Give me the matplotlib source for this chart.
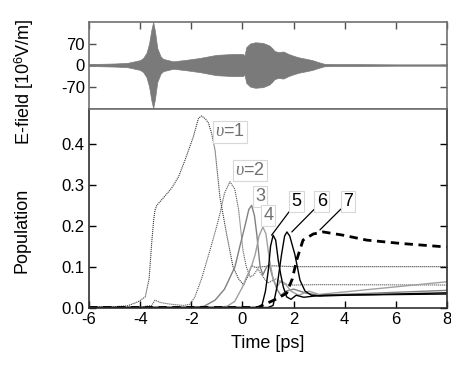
import matplotlib
matplotlib.use("Agg")
import matplotlib.pyplot as plt

plt.rcParams['font.family'] = ['Liberation Sans', 'DejaVu Sans']
plt.rcParams['mathtext.fontset'] = 'custom'
plt.rcParams['mathtext.rm'] = 'Liberation Sans'
plt.rcParams['mathtext.it'] = 'Liberation Serif:italic'
plt.rcParams['axes.unicode_minus'] = False

# ---- E-field envelope (10^6 V/m) ----
ef_t = [-6, -5, -4.5, -4.27, -4.0, -3.88, -3.75, -3.65, -3.56, -3.49, -3.42, -3.33, -3.2, -3.1,
        -2.71, -2.19, -1.67, -1.02, -0.37, 0.02, 0.08, 0.15, 0.3, 0.5, 0.8, 1.04, 1.15, 1.25,
        1.4, 1.6, 1.8, 2.0, 2.2, 2.5, 2.73, 2.95, 3.2, 3.5, 4.5, 6, 8]
ef_amp = [3, 5, 7, 11, 16, 23, 40, 70, 115, 140, 110, 55, 28, 20,
          12, 17, 23, 33, 36, 36, 30, 58, 70, 74, 72, 64, 56, 46,
          42, 44, 36, 30, 25, 20, 16, 10, 4, 3, 3, 2, 2]

# ---- Populations ----
v1_t = [-6, -5, -4.5, -4.08, -3.8, -3.65, -3.55, -3.47, -3.42, -3.35, -3.1, -2.77, -2.5, -2.25,
        -1.92, -1.72, -1.6, -1.45, -1.33, -1.2, -1.07, -0.88, -0.62, -0.37, -0.15, 0.05, 0.2,
        0.36, 0.5, 0.8, 1.2, 2.0, 3.0, 8]
v1_p = [0, 0.002, 0.004, 0.014, 0.026, 0.07, 0.157, 0.215, 0.238, 0.25, 0.268, 0.292, 0.32, 0.36,
        0.418, 0.463, 0.469, 0.462, 0.452, 0.425, 0.385, 0.27, 0.18, 0.10, 0.07, 0.055, 0.075,
        0.103, 0.098, 0.1, 0.102, 0.1, 0.1, 0.1]

v2_t = [-6, -4, -3.55, -3.42, -3.2, -2.8, -2.3, -2.05, -1.86, -1.6, -1.27, -1.0, -0.88, -0.7,
        -0.49, -0.3, -0.15, 0.02, 0.15, 0.3, 0.45, 0.6, 0.8, 1.0, 1.3, 1.6, 2.0, 3.0, 8]
v2_p = [0, 0.001, 0.005, 0.018, 0.012, 0.008, 0.005, 0.008, 0.026, 0.07, 0.14, 0.2, 0.23, 0.28,
        0.308, 0.29, 0.24, 0.14, 0.10, 0.075, 0.08, 0.095, 0.075, 0.06, 0.07, 0.058, 0.055, 0.056, 0.055]

v3_t = [-6, -2, -1.5, -1.07, -0.7, -0.29, -0.1, 0.1, 0.25, 0.36, 0.47, 0.56, 0.69, 0.8, 0.95,
        1.05, 1.2, 1.35, 1.5, 1.7, 2.0, 2.5, 3.0, 8]
v3_p = [0, 0, 0.003, 0.018, 0.045, 0.1, 0.15, 0.2, 0.24, 0.25, 0.225, 0.18, 0.1, 0.08, 0.1,
        0.105, 0.07, 0.045, 0.03, 0.04, 0.045, 0.035, 0.03, 0.042]

v4_t = [-6, -1.0, -0.6, -0.3, 0.0, 0.2, 0.35, 0.5, 0.65, 0.8, 0.92, 1.05, 1.2, 1.35, 1.5,
        1.65, 1.9, 2.2, 2.6, 3.0, 8]
v4_p = [0, 0, 0.003, 0.015, 0.05, 0.08, 0.1, 0.13, 0.175, 0.197, 0.18, 0.12, 0.07, 0.05, 0.065,
        0.06, 0.04, 0.03, 0.04, 0.032, 0.063]

v5_t = [-6, 0.5, 0.75, 0.9, 1.01, 1.1, 1.2, 1.3, 1.4, 1.5, 1.6, 1.73, 1.9, 2.1, 2.4, 2.8, 3.2, 8]
v5_p = [0, 0, 0.002, 0.04, 0.09, 0.15, 0.177, 0.165, 0.116, 0.08, 0.05, 0.026, 0.02, 0.03,
        0.025, 0.028, 0.03, 0.033]

v6_t = [-6, 1.0, 1.2, 1.35, 1.53, 1.65, 1.74, 1.85, 2.05, 2.25, 2.45, 2.7, 3.03, 4.0, 8]
v6_p = [0, 0, 0.005, 0.05, 0.13, 0.175, 0.185, 0.175, 0.13, 0.067, 0.04, 0.03, 0.028, 0.03, 0.036]

v7_t = [-6, 0.6, 0.95, 1.3, 1.73, 1.95, 2.12, 2.37, 2.77, 3.16, 3.94, 4.86, 6.16, 8]
v7_p = [0, 0, 0.01, 0.02, 0.035, 0.07, 0.116, 0.165, 0.18, 0.185, 0.177, 0.165, 0.157, 0.148]

labels = ['$\\mathit{\\upsilon}$=1', '$\\mathit{\\upsilon}$=2', '3', '4', '5', '6', '7']
label_pos = [(-0.49, 0.43), (0.30, 0.336), (0.69, 0.271), (1.01, 0.225),
             (2.12, 0.259), (3.10, 0.259), (4.14, 0.259)]
label_colors = ['#707070', '#707070', '#707070', '#707070', 'black', 'black', 'black']
leader_xy = [None, None, None, None, (1.14, 0.177), (1.93, 0.185), (3.03, 0.19)]

xticks = [-6, -4, -2, 0, 2, 4, 6, 8]
ef_ticks = [-70, 0, 70]
pop_ticks = [0.0, 0.1, 0.2, 0.3, 0.4]

fig = plt.figure(figsize=(4.52, 3.67), dpi=100)
L, R = 89 / 452, 447 / 452
ax1 = fig.add_axes([L, 1 - 109 / 367, R - L, (109 - 22) / 367])
ax2 = fig.add_axes([L, 1 - 307.5 / 367, R - L, (307.5 - 109) / 367])

# top panel
ax1.fill_between(ef_t, [-a for a in ef_amp], ef_amp, color='#7a7a7a', lw=0.5)
ax1.plot(ef_t, [0] * len(ef_t), color='#7a7a7a', lw=1.0)
ax1.set_xlim(-6, 8)
ax1.set_ylim(-143, 140)
ax1.set_xticks(xticks)
ax1.set_yticks(ef_ticks)
ax1.set_yticklabels(['-70', '0', '70'])
ax1.tick_params(direction='in', top=True, bottom=False, labelbottom=False, left=True, right=True,
                length=5, width=1, labelsize=12, colors='#505050', labelcolor='black', pad=3)
for s in ax1.spines.values():
    s.set_color('#707070')
    s.set_linewidth(1.2)

# bottom panel
ax2.plot(v1_t, v1_p, color='#383838', lw=0.8, ls=(0, (1, 0.8)))
ax2.plot(v2_t, v2_p, color='#555555', lw=0.8, ls=(0, (1, 0.8)))
ax2.plot(v3_t, v3_p, color='#808080', lw=1.0)
ax2.plot(v4_t, v4_p, color='#a0a0a0', lw=1.0)
ax2.plot(v5_t, v5_p, color='black', lw=1.0)
ax2.plot(v6_t, v6_p, color='black', lw=1.0)
ax2.plot(v7_t, v7_p, color='black', lw=2.0, ls=(0, (3, 2)))

for lab, pos, col, lxy in zip(labels, label_pos, label_colors, leader_xy):
    bbox = dict(boxstyle='square,pad=0.12', fc='white', ec='#d8d8d8', lw=0.8)
    if lxy is None:
        ax2.text(pos[0], pos[1], lab, color=col, fontsize=13, ha='center', va='center', bbox=bbox)
    else:
        ax2.annotate(lab, xy=lxy, xytext=pos, color=col, fontsize=13, ha='center', va='center',
                     bbox=bbox, arrowprops=dict(arrowstyle='-', color='black', lw=0.9,
                                                shrinkA=0, shrinkB=0))

ax2.set_xlim(-6, 8)
ax2.set_ylim(0, 0.486)
ax2.set_xticks(xticks)
ax2.set_yticks(pop_ticks)
ax2.set_yticklabels(['0.0', '0.1', '0.2', '0.3', '0.4'])
ax2.tick_params(direction='in', top=False, bottom=True, left=True, right=True,
                length=5, width=1, labelsize=12, pad=3)
for k, s in ax2.spines.items():
    s.set_linewidth(1.2)
    s.set_color('#707070' if k == 'top' else '#303030')
ax2.set_xlabel('Time [ps]', fontsize=13, labelpad=6)

fig.text(24 / 452, 1 - 82 / 367, 'E-field [10$^{6}$V/m]', rotation=90, fontsize=13,
         ha='center', va='center')
fig.text(22 / 452, 1 - 230 / 367, 'Population', rotation=90, fontsize=13,
         ha='center', va='center')

fig.savefig('out.png', dpi=100)
